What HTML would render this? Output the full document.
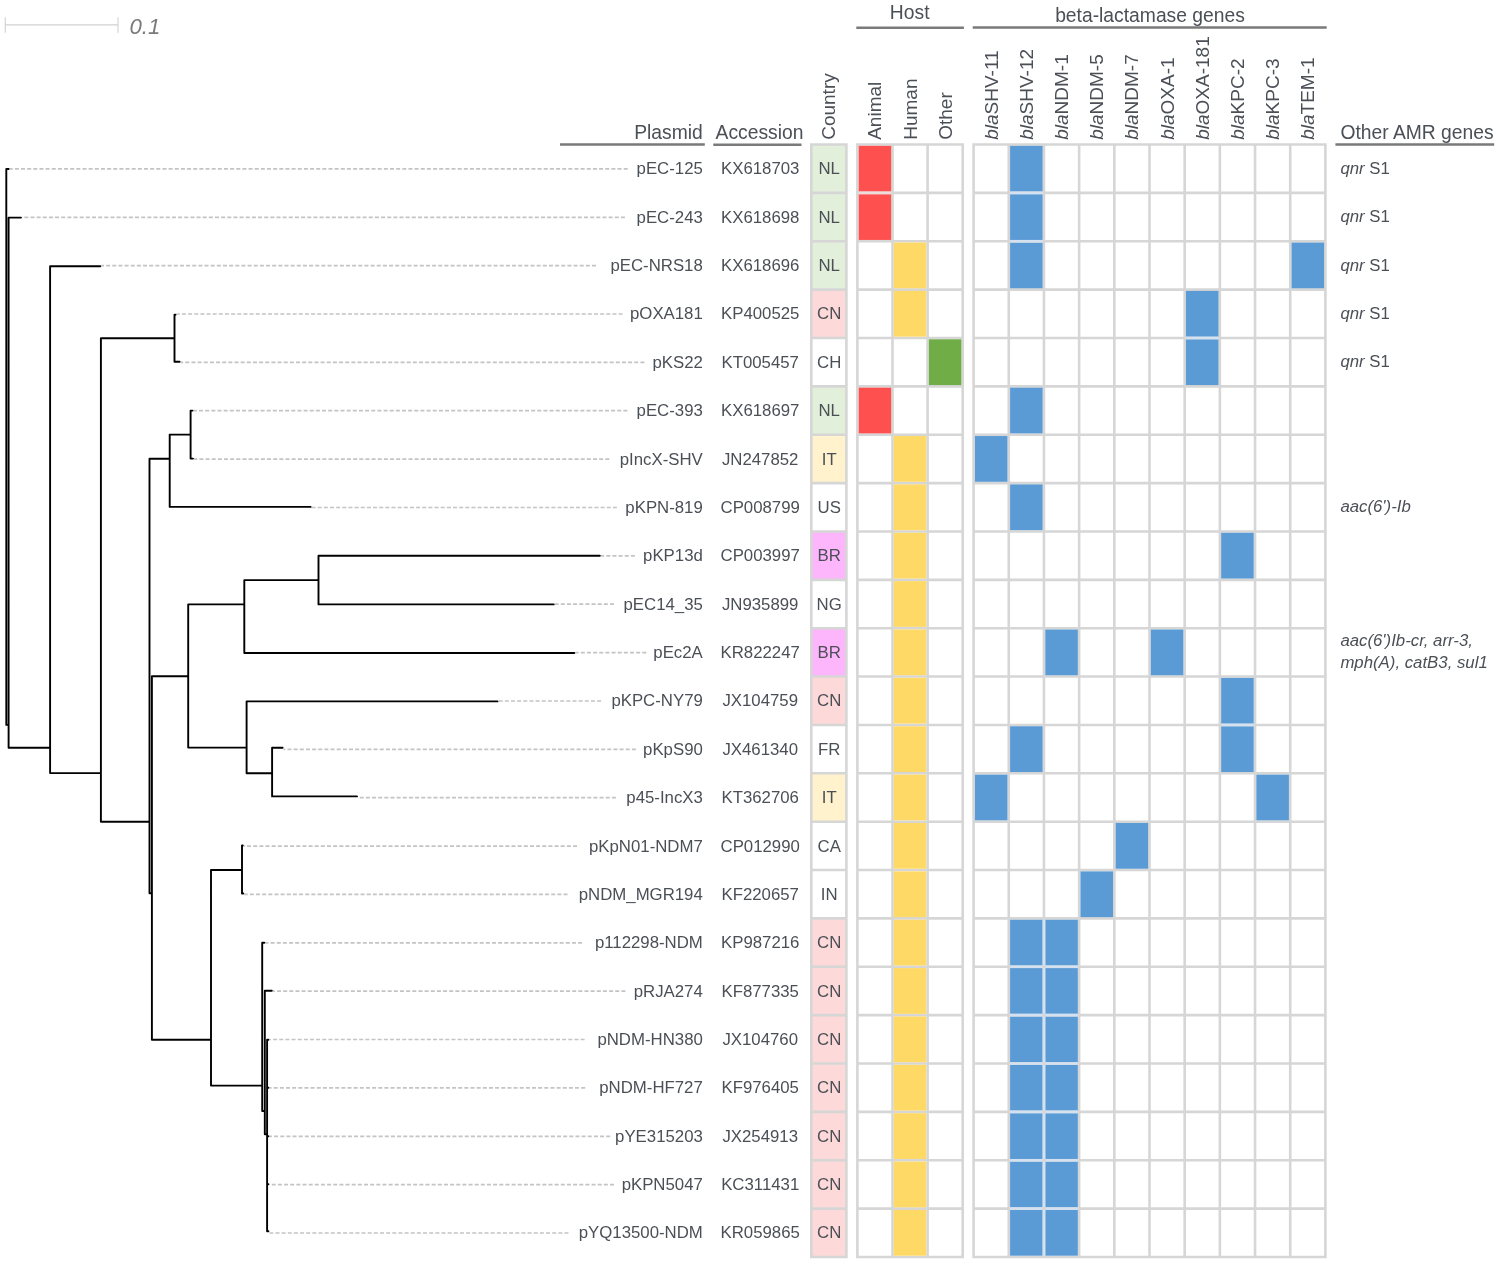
<!DOCTYPE html><html><head><meta charset="utf-8"><style>html,body{margin:0;padding:0;background:#fff;}svg{display:block;will-change:transform;}text{font-family:"Liberation Sans",sans-serif;}</style></head><body>
<svg width="1500" height="1264" viewBox="0 0 1500 1264">
<rect width="1500" height="1264" fill="#fff"/>
<g stroke="#d2d2d2" stroke-width="1.1" fill="none"><path d="M5.3,24.9H118M5.3,17.2V32.8M118,17.2V32.8"/></g>
<text x="129.5" y="33.6" font-size="22.2" font-style="italic" fill="#7a7a7a">0.1</text>
<path d="M627.7,168.9H9.6M624.9,217.3H22.0M596.0,265.6H101.3M622.6,314.0H176.5M644.4,362.4H180.6M627.4,410.7H193.5M609.3,459.1H194.0M616.9,507.5H311.6M634.9,555.8H600.8M614.0,604.2H554.7M646.3,652.6H575.3M601.1,701.0H498.5M635.9,749.3H283.6M615.9,797.7H358.0M577.0,846.1H243.8M567.5,894.4H244.3M582.1,942.8H265.3M625.4,991.2H272.8M584.6,1039.5H269.4M585.2,1087.9H269.4M610.2,1136.3H269.4M614.0,1184.7H269.4M568.5,1233.0H269.4" stroke="#c4c4c4" stroke-width="1.7" stroke-dasharray="4 2.15" fill="none"/>
<path d="M6.3,169.0V724.9M6.3,169.0H8.6M6.3,724.9H8.6M8.6,217.6V747.8M8.6,217.6H21.0M8.6,747.8H50.1M50.1,266.2V773.1M50.1,266.2H100.3M50.1,773.1H100.9M100.9,338.2V821.8M100.9,338.2H174.5M100.9,821.8H149.5M174.5,314.7V361.8M174.5,314.7H175.5M174.5,361.8H179.6M149.5,458.7V893.3M149.5,458.7H169.7M149.5,893.3H151.9M169.7,434.6V506.9M169.7,434.6H190.6M169.7,506.9H310.6M190.6,410.6V458.6M190.6,410.6H192.5M190.6,458.6H193.0M151.9,676.3V1039.8M151.9,676.3H188.2M151.9,1039.8H211.0M188.2,604.4V747.6M188.2,604.4H244.3M188.2,747.6H246.6M244.3,580.1V653.0M244.3,580.1H318.5M244.3,653.0H574.3M318.5,555.8V604.4M318.5,555.8H599.8M318.5,604.4H553.7M246.6,701.4V773.3M246.6,701.4H497.5M246.6,773.3H272.1M272.1,747.8V796.4M272.1,747.8H282.6M272.1,796.4H357.0M211.0,870.0V1085.6M211.0,870.0H242.0M211.0,1085.6H262.2M242.0,845.5V893.5M242.0,845.5H242.8M242.0,893.5H243.3M262.2,942.8V1111.0M262.2,942.8H264.3M262.2,1111.0H264.8M264.8,990.8V1134.3M264.8,990.8H271.8M264.8,1134.3H267.1M267.1,1039.8V1231.3M267.1,1039.8H268.4M267.1,1087.7H268.4M267.1,1136.2H268.4M267.1,1184.3H268.4M267.1,1231.3H268.4" stroke="#000" stroke-width="1.9" fill="none" stroke-linecap="round" stroke-linejoin="round"/>
<g font-size="19.3" fill="#4b4f56">
<text x="702.8" y="139" text-anchor="end">Plasmid</text>
<text x="759.5" y="139" text-anchor="middle">Accession</text>
<text x="1340.4" y="139">Other AMR genes</text>
<text x="909.7" y="19.1" text-anchor="middle">Host</text>
<text x="1150" y="22.3" text-anchor="middle">beta-lactamase genes</text>
<text font-size="19" transform="translate(835.0,139.8) rotate(-90)">Country</text>
<text font-size="19" transform="translate(881.4,139.8) rotate(-90)">Animal</text>
<text font-size="19" transform="translate(916.5,139.8) rotate(-90)">Human</text>
<text font-size="19" transform="translate(951.6,139.8) rotate(-90)">Other</text>
<text font-size="19" transform="translate(997.7,139.8) rotate(-90)"><tspan font-style="italic">bla</tspan>SHV-11</text>
<text font-size="19" transform="translate(1032.9,139.8) rotate(-90)"><tspan font-style="italic">bla</tspan>SHV-12</text>
<text font-size="19" transform="translate(1068.0,139.8) rotate(-90)"><tspan font-style="italic">bla</tspan>NDM-1</text>
<text font-size="19" transform="translate(1103.2,139.8) rotate(-90)"><tspan font-style="italic">bla</tspan>NDM-5</text>
<text font-size="19" transform="translate(1138.4,139.8) rotate(-90)"><tspan font-style="italic">bla</tspan>NDM-7</text>
<text font-size="19" transform="translate(1173.6,139.8) rotate(-90)"><tspan font-style="italic">bla</tspan>OXA-1</text>
<text font-size="19" transform="translate(1208.8,139.8) rotate(-90)"><tspan font-style="italic">bla</tspan>OXA-181</text>
<text font-size="19" transform="translate(1244.0,139.8) rotate(-90)"><tspan font-style="italic">bla</tspan>KPC-2</text>
<text font-size="19" transform="translate(1279.1,139.8) rotate(-90)"><tspan font-style="italic">bla</tspan>KPC-3</text>
<text font-size="19" transform="translate(1314.3,139.8) rotate(-90)"><tspan font-style="italic">bla</tspan>TEM-1</text>
</g>
<g stroke="#7a7a7a" stroke-width="2.5" fill="none">
<path d="M560,144.6H704.8M713.3,144.8H801.5M1335.4,144.6H1494.2M856.3,27.8H963.9M972.7,27.6H1326.7"/>
</g>
<rect x="811.3" y="144.50" width="35.10" height="48.37" fill="#e2efda"/><rect x="811.3" y="192.87" width="35.10" height="48.37" fill="#e2efda"/><rect x="811.3" y="241.24" width="35.10" height="48.37" fill="#e2efda"/><rect x="811.3" y="289.61" width="35.10" height="48.37" fill="#fdd9d9"/><rect x="811.3" y="386.35" width="35.10" height="48.37" fill="#e2efda"/><rect x="811.3" y="434.72" width="35.10" height="48.37" fill="#fff2cc"/><rect x="811.3" y="531.46" width="35.10" height="48.37" fill="#fdb5fb"/><rect x="811.3" y="628.20" width="35.10" height="48.37" fill="#fdb5fb"/><rect x="811.3" y="676.57" width="35.10" height="48.37" fill="#fdd9d9"/><rect x="811.3" y="773.31" width="35.10" height="48.37" fill="#fff2cc"/><rect x="811.3" y="918.42" width="35.10" height="48.37" fill="#fdd9d9"/><rect x="811.3" y="966.79" width="35.10" height="48.37" fill="#fdd9d9"/><rect x="811.3" y="1015.16" width="35.10" height="48.37" fill="#fdd9d9"/><rect x="811.3" y="1063.53" width="35.10" height="48.37" fill="#fdd9d9"/><rect x="811.3" y="1111.90" width="35.10" height="48.37" fill="#fdd9d9"/><rect x="811.3" y="1160.27" width="35.10" height="48.37" fill="#fdd9d9"/><rect x="811.3" y="1208.64" width="35.10" height="48.37" fill="#fdd9d9"/>
<path d="M811.30,144.50V1257.01M846.40,144.50V1257.01M810.00,144.50H847.70M810.00,192.87H847.70M810.00,241.24H847.70M810.00,289.61H847.70M810.00,337.98H847.70M810.00,386.35H847.70M810.00,434.72H847.70M810.00,483.09H847.70M810.00,531.46H847.70M810.00,579.83H847.70M810.00,628.20H847.70M810.00,676.57H847.70M810.00,724.94H847.70M810.00,773.31H847.70M810.00,821.68H847.70M810.00,870.05H847.70M810.00,918.42H847.70M810.00,966.79H847.70M810.00,1015.16H847.70M810.00,1063.53H847.70M810.00,1111.90H847.70M810.00,1160.27H847.70M810.00,1208.64H847.70M810.00,1257.01H847.70M857.40,144.50V1257.01M892.50,144.50V1257.01M927.60,144.50V1257.01M962.70,144.50V1257.01M856.10,144.50H964.00M856.10,192.87H964.00M856.10,241.24H964.00M856.10,289.61H964.00M856.10,337.98H964.00M856.10,386.35H964.00M856.10,434.72H964.00M856.10,483.09H964.00M856.10,531.46H964.00M856.10,579.83H964.00M856.10,628.20H964.00M856.10,676.57H964.00M856.10,724.94H964.00M856.10,773.31H964.00M856.10,821.68H964.00M856.10,870.05H964.00M856.10,918.42H964.00M856.10,966.79H964.00M856.10,1015.16H964.00M856.10,1063.53H964.00M856.10,1111.90H964.00M856.10,1160.27H964.00M856.10,1208.64H964.00M856.10,1257.01H964.00M973.60,144.50V1257.01M1008.78,144.50V1257.01M1043.96,144.50V1257.01M1079.14,144.50V1257.01M1114.32,144.50V1257.01M1149.50,144.50V1257.01M1184.68,144.50V1257.01M1219.86,144.50V1257.01M1255.04,144.50V1257.01M1290.22,144.50V1257.01M1325.40,144.50V1257.01M972.30,144.50H1326.70M972.30,192.87H1326.70M972.30,241.24H1326.70M972.30,289.61H1326.70M972.30,337.98H1326.70M972.30,386.35H1326.70M972.30,434.72H1326.70M972.30,483.09H1326.70M972.30,531.46H1326.70M972.30,579.83H1326.70M972.30,628.20H1326.70M972.30,676.57H1326.70M972.30,724.94H1326.70M972.30,773.31H1326.70M972.30,821.68H1326.70M972.30,870.05H1326.70M972.30,918.42H1326.70M972.30,966.79H1326.70M972.30,1015.16H1326.70M972.30,1063.53H1326.70M972.30,1111.90H1326.70M972.30,1160.27H1326.70M972.30,1208.64H1326.70M972.30,1257.01H1326.70" stroke="#d6d6d6" stroke-width="2.6" fill="none"/>
<rect x="858.70" y="145.80" width="32.50" height="45.77" fill="#ff5050"/><rect x="1010.08" y="145.80" width="32.58" height="45.77" fill="#5b9bd5"/><rect x="858.70" y="194.17" width="32.50" height="45.77" fill="#ff5050"/><rect x="1010.08" y="194.17" width="32.58" height="45.77" fill="#5b9bd5"/><rect x="893.80" y="242.54" width="32.50" height="45.77" fill="#ffd966"/><rect x="1010.08" y="242.54" width="32.58" height="45.77" fill="#5b9bd5"/><rect x="1291.52" y="242.54" width="32.58" height="45.77" fill="#5b9bd5"/><rect x="893.80" y="290.91" width="32.50" height="45.77" fill="#ffd966"/><rect x="1185.98" y="290.91" width="32.58" height="45.77" fill="#5b9bd5"/><rect x="928.90" y="339.28" width="32.50" height="45.77" fill="#70ad47"/><rect x="1185.98" y="339.28" width="32.58" height="45.77" fill="#5b9bd5"/><rect x="858.70" y="387.65" width="32.50" height="45.77" fill="#ff5050"/><rect x="1010.08" y="387.65" width="32.58" height="45.77" fill="#5b9bd5"/><rect x="893.80" y="436.02" width="32.50" height="45.77" fill="#ffd966"/><rect x="974.90" y="436.02" width="32.58" height="45.77" fill="#5b9bd5"/><rect x="893.80" y="484.39" width="32.50" height="45.77" fill="#ffd966"/><rect x="1010.08" y="484.39" width="32.58" height="45.77" fill="#5b9bd5"/><rect x="893.80" y="532.76" width="32.50" height="45.77" fill="#ffd966"/><rect x="1221.16" y="532.76" width="32.58" height="45.77" fill="#5b9bd5"/><rect x="893.80" y="581.13" width="32.50" height="45.77" fill="#ffd966"/><rect x="893.80" y="629.50" width="32.50" height="45.77" fill="#ffd966"/><rect x="1045.26" y="629.50" width="32.58" height="45.77" fill="#5b9bd5"/><rect x="1150.80" y="629.50" width="32.58" height="45.77" fill="#5b9bd5"/><rect x="893.80" y="677.87" width="32.50" height="45.77" fill="#ffd966"/><rect x="1221.16" y="677.87" width="32.58" height="45.77" fill="#5b9bd5"/><rect x="893.80" y="726.24" width="32.50" height="45.77" fill="#ffd966"/><rect x="1010.08" y="726.24" width="32.58" height="45.77" fill="#5b9bd5"/><rect x="1221.16" y="726.24" width="32.58" height="45.77" fill="#5b9bd5"/><rect x="893.80" y="774.61" width="32.50" height="45.77" fill="#ffd966"/><rect x="974.90" y="774.61" width="32.58" height="45.77" fill="#5b9bd5"/><rect x="1256.34" y="774.61" width="32.58" height="45.77" fill="#5b9bd5"/><rect x="893.80" y="822.98" width="32.50" height="45.77" fill="#ffd966"/><rect x="1115.62" y="822.98" width="32.58" height="45.77" fill="#5b9bd5"/><rect x="893.80" y="871.35" width="32.50" height="45.77" fill="#ffd966"/><rect x="1080.44" y="871.35" width="32.58" height="45.77" fill="#5b9bd5"/><rect x="893.80" y="919.72" width="32.50" height="45.77" fill="#ffd966"/><rect x="1010.08" y="919.72" width="32.58" height="45.77" fill="#5b9bd5"/><rect x="1045.26" y="919.72" width="32.58" height="45.77" fill="#5b9bd5"/><rect x="893.80" y="968.09" width="32.50" height="45.77" fill="#ffd966"/><rect x="1010.08" y="968.09" width="32.58" height="45.77" fill="#5b9bd5"/><rect x="1045.26" y="968.09" width="32.58" height="45.77" fill="#5b9bd5"/><rect x="893.80" y="1016.46" width="32.50" height="45.77" fill="#ffd966"/><rect x="1010.08" y="1016.46" width="32.58" height="45.77" fill="#5b9bd5"/><rect x="1045.26" y="1016.46" width="32.58" height="45.77" fill="#5b9bd5"/><rect x="893.80" y="1064.83" width="32.50" height="45.77" fill="#ffd966"/><rect x="1010.08" y="1064.83" width="32.58" height="45.77" fill="#5b9bd5"/><rect x="1045.26" y="1064.83" width="32.58" height="45.77" fill="#5b9bd5"/><rect x="893.80" y="1113.20" width="32.50" height="45.77" fill="#ffd966"/><rect x="1010.08" y="1113.20" width="32.58" height="45.77" fill="#5b9bd5"/><rect x="1045.26" y="1113.20" width="32.58" height="45.77" fill="#5b9bd5"/><rect x="893.80" y="1161.57" width="32.50" height="45.77" fill="#ffd966"/><rect x="1010.08" y="1161.57" width="32.58" height="45.77" fill="#5b9bd5"/><rect x="1045.26" y="1161.57" width="32.58" height="45.77" fill="#5b9bd5"/><rect x="893.80" y="1209.94" width="32.50" height="45.77" fill="#ffd966"/><rect x="1010.08" y="1209.94" width="32.58" height="45.77" fill="#5b9bd5"/><rect x="1045.26" y="1209.94" width="32.58" height="45.77" fill="#5b9bd5"/>
<path d="M858.70,192.87H891.20" stroke="#ecdcdc" stroke-width="2.6" fill="none"/>
<path d="M1010.08,192.87H1042.66M1010.08,241.24H1042.66M1185.98,337.98H1218.56M1221.16,724.94H1253.74M1010.08,966.79H1042.66M1043.96,919.72V965.49M1045.26,966.79H1077.84M1010.08,1015.16H1042.66M1043.96,968.09V1013.86M1045.26,1015.16H1077.84M1010.08,1063.53H1042.66M1043.96,1016.46V1062.23M1045.26,1063.53H1077.84M1010.08,1111.90H1042.66M1043.96,1064.83V1110.60M1045.26,1111.90H1077.84M1010.08,1160.27H1042.66M1043.96,1113.20V1158.97M1045.26,1160.27H1077.84M1010.08,1208.64H1042.66M1043.96,1161.57V1207.34M1045.26,1208.64H1077.84M1043.96,1209.94V1255.71" stroke="#d5e1ee" stroke-width="2.6" fill="none"/>
<g font-size="16.8" fill="#4b4f56"><text x="702.8" y="174.3" text-anchor="end">pEC-125</text><text x="760.2" y="174.3" text-anchor="middle">KX618703</text><text x="829.2" y="174.3" text-anchor="middle">NL</text><text x="1340.4" y="173.8" font-size="16.8"><tspan font-style="italic">qnr</tspan> S1</text><text x="702.8" y="222.7" text-anchor="end">pEC-243</text><text x="760.2" y="222.7" text-anchor="middle">KX618698</text><text x="829.2" y="222.7" text-anchor="middle">NL</text><text x="1340.4" y="222.2" font-size="16.8"><tspan font-style="italic">qnr</tspan> S1</text><text x="702.8" y="271.0" text-anchor="end">pEC-NRS18</text><text x="760.2" y="271.0" text-anchor="middle">KX618696</text><text x="829.2" y="271.0" text-anchor="middle">NL</text><text x="1340.4" y="270.5" font-size="16.8"><tspan font-style="italic">qnr</tspan> S1</text><text x="702.8" y="319.4" text-anchor="end">pOXA181</text><text x="760.2" y="319.4" text-anchor="middle">KP400525</text><text x="829.2" y="319.4" text-anchor="middle">CN</text><text x="1340.4" y="318.9" font-size="16.8"><tspan font-style="italic">qnr</tspan> S1</text><text x="702.8" y="367.8" text-anchor="end">pKS22</text><text x="760.2" y="367.8" text-anchor="middle">KT005457</text><text x="829.2" y="367.8" text-anchor="middle">CH</text><text x="1340.4" y="367.3" font-size="16.8"><tspan font-style="italic">qnr</tspan> S1</text><text x="702.8" y="416.1" text-anchor="end">pEC-393</text><text x="760.2" y="416.1" text-anchor="middle">KX618697</text><text x="829.2" y="416.1" text-anchor="middle">NL</text><text x="702.8" y="464.5" text-anchor="end">pIncX-SHV</text><text x="760.2" y="464.5" text-anchor="middle">JN247852</text><text x="829.2" y="464.5" text-anchor="middle">IT</text><text x="702.8" y="512.9" text-anchor="end">pKPN-819</text><text x="760.2" y="512.9" text-anchor="middle">CP008799</text><text x="829.2" y="512.9" text-anchor="middle">US</text><text x="1340.4" y="512.4" font-size="16.8" font-style="italic">aac(6')-Ib</text><text x="702.8" y="561.2" text-anchor="end">pKP13d</text><text x="760.2" y="561.2" text-anchor="middle">CP003997</text><text x="829.2" y="561.2" text-anchor="middle">BR</text><text x="702.8" y="609.6" text-anchor="end">pEC14_35</text><text x="760.2" y="609.6" text-anchor="middle">JN935899</text><text x="829.2" y="609.6" text-anchor="middle">NG</text><text x="702.8" y="658.0" text-anchor="end">pEc2A</text><text x="760.2" y="658.0" text-anchor="middle">KR822247</text><text x="829.2" y="658.0" text-anchor="middle">BR</text><text x="1340.4" y="646.1" font-size="16.8" font-style="italic">aac(6')Ib-cr, arr-3,</text><text x="1340.4" y="668.2" font-size="16.8" font-style="italic">mph(A), catB3, sul1</text><text x="702.8" y="706.4" text-anchor="end">pKPC-NY79</text><text x="760.2" y="706.4" text-anchor="middle">JX104759</text><text x="829.2" y="706.4" text-anchor="middle">CN</text><text x="702.8" y="754.7" text-anchor="end">pKpS90</text><text x="760.2" y="754.7" text-anchor="middle">JX461340</text><text x="829.2" y="754.7" text-anchor="middle">FR</text><text x="702.8" y="803.1" text-anchor="end">p45-IncX3</text><text x="760.2" y="803.1" text-anchor="middle">KT362706</text><text x="829.2" y="803.1" text-anchor="middle">IT</text><text x="702.8" y="851.5" text-anchor="end">pKpN01-NDM7</text><text x="760.2" y="851.5" text-anchor="middle">CP012990</text><text x="829.2" y="851.5" text-anchor="middle">CA</text><text x="702.8" y="899.8" text-anchor="end">pNDM_MGR194</text><text x="760.2" y="899.8" text-anchor="middle">KF220657</text><text x="829.2" y="899.8" text-anchor="middle">IN</text><text x="702.8" y="948.2" text-anchor="end">p112298-NDM</text><text x="760.2" y="948.2" text-anchor="middle">KP987216</text><text x="829.2" y="948.2" text-anchor="middle">CN</text><text x="702.8" y="996.6" text-anchor="end">pRJA274</text><text x="760.2" y="996.6" text-anchor="middle">KF877335</text><text x="829.2" y="996.6" text-anchor="middle">CN</text><text x="702.8" y="1044.9" text-anchor="end">pNDM-HN380</text><text x="760.2" y="1044.9" text-anchor="middle">JX104760</text><text x="829.2" y="1044.9" text-anchor="middle">CN</text><text x="702.8" y="1093.3" text-anchor="end">pNDM-HF727</text><text x="760.2" y="1093.3" text-anchor="middle">KF976405</text><text x="829.2" y="1093.3" text-anchor="middle">CN</text><text x="702.8" y="1141.7" text-anchor="end">pYE315203</text><text x="760.2" y="1141.7" text-anchor="middle">JX254913</text><text x="829.2" y="1141.7" text-anchor="middle">CN</text><text x="702.8" y="1190.1" text-anchor="end">pKPN5047</text><text x="760.2" y="1190.1" text-anchor="middle">KC311431</text><text x="829.2" y="1190.1" text-anchor="middle">CN</text><text x="702.8" y="1238.4" text-anchor="end">pYQ13500-NDM</text><text x="760.2" y="1238.4" text-anchor="middle">KR059865</text><text x="829.2" y="1238.4" text-anchor="middle">CN</text></g>
</svg></body></html>
